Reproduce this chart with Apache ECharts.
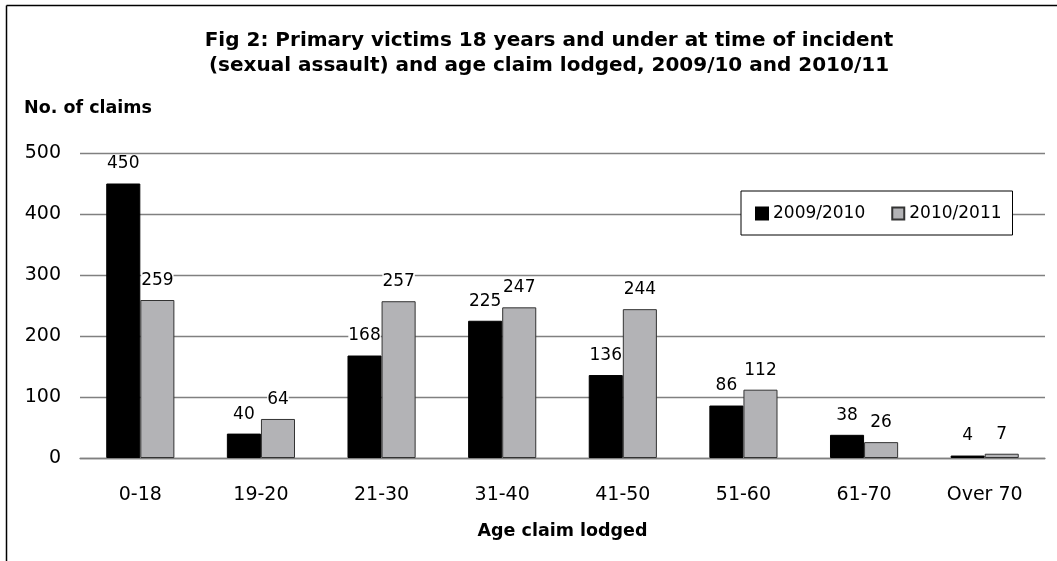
<!DOCTYPE html>
<html><head><meta charset="utf-8">
<script src="https://cdn.jsdelivr.net/npm/echarts@6/dist/echarts.min.js"></script>
<style>html,body{margin:0;padding:0;background:#fff}#c{width:1057px;height:561px}</style>
</head><body><div id="c"></div>
<script>
const categories = ['0-18','19-20','21-30','31-40','41-50','51-60','61-70','Over 70'];
const s2009 = [450,40,168,225,136,86,38,4];
const s2010 = [259,64,257,247,244,112,26,7];
const yTicks = [0,100,200,300,400,500];
const seriesNames = ['2009/2010','2010/2011'];

const chart = echarts.init(document.getElementById('c'), null, {renderer:'canvas'});
const FONT = '"DejaVu Sans", "Liberation Sans", Arial, sans-serif';
const lbl = {show:true, position:'top', distance:11, color:'#000', fontFamily:FONT, fontSize:17, backgroundColor:'#fff', padding:0};
chart.setOption({
  animation:false,
  graphic:[
    {type:'line', shape:{x1:6.5,y1:5.5,x2:1057,y2:5.5}, style:{stroke:'#000',lineWidth:1.5}},
    {type:'line', shape:{x1:6.5,y1:5.5,x2:6.5,y2:561}, style:{stroke:'#000',lineWidth:1.5}},
    {type:'text', left:24, top:99, style:{text:'No. of claims', font:'bold 17.5px '+FONT, fill:'#000'}}
  ],
  title:{
    text:'Fig 2: Primary victims 18 years and under at time of incident\n(sexual assault) and age claim lodged, 2009/10 and 2010/11',
    left:544, top:23, textAlign:'center',
    textStyle:{fontFamily:FONT, fontWeight:'bold', fontSize:20, lineHeight:25, color:'#000'}
  },
  legend:{
    data:seriesNames, left:741, top:191, orient:'horizontal',
    borderColor:'#000', borderWidth:1, padding:[14,11,13,14],
    itemWidth:12, itemHeight:12, itemGap:26,
    textStyle:{fontFamily:FONT, fontSize:17, color:'#000'},
    backgroundColor:'#fff', icon:'rect'
  },
  grid:{left:80, right:12, top:153, bottom:103, containLabel:false},
  xAxis:{
    type:'category', data:categories,
    axisLine:{lineStyle:{color:'#808080', width:1.3}},
    axisTick:{show:false},
    axisLabel:{fontFamily:FONT, fontSize:19, color:'#000', margin:28},
    name:'Age claim lodged', nameLocation:'middle', nameGap:64,
    nameTextStyle:{fontFamily:FONT, fontWeight:'bold', fontSize:17.5, color:'#000'}
  },
  yAxis:{
    type:'value', min:0, max:500, interval:100,
    axisLine:{show:false}, axisTick:{show:false},
    axisLabel:{fontFamily:FONT, fontSize:19, color:'#000', margin:19,
      formatter:v=>yTicks.includes(v)?String(v):''},
    splitLine:{lineStyle:{color:'#808080', width:1.3}}
  },
  series:[
    {name:seriesNames[0], type:'bar', data:s2009, barGap:'0%', barCategoryGap:'43.5%',
      itemStyle:{color:'#000', borderColor:'#000', borderWidth:1}, label:lbl},
    {name:seriesNames[1], type:'bar', data:s2010,
      itemStyle:{color:'#b3b3b6', borderColor:'#333', borderWidth:1}, label:lbl}
  ]
});
</script></body></html>
